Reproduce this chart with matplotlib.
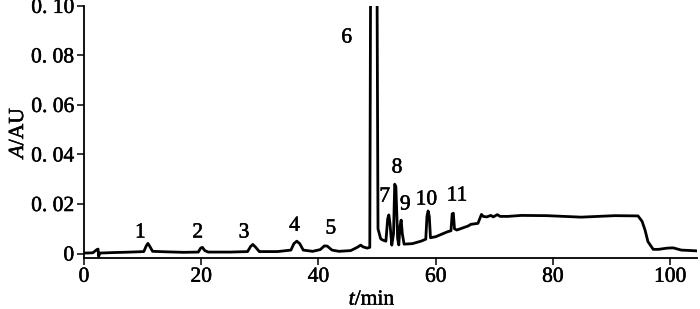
import numpy as np
import matplotlib
matplotlib.use("Agg")
import matplotlib.pyplot as plt
import matplotlib.patheffects as pe

plt.rcParams['font.family'] = ['Liberation Serif', 'DejaVu Serif']
plt.rcParams['mathtext.fontset'] = 'custom'
plt.rcParams['mathtext.it'] = 'Liberation Serif:italic'
plt.rcParams['mathtext.rm'] = 'Liberation Serif'

# chromatogram trace (time in min, absorbance in AU)
t_min = [0.0, 1.5, 2.2, 2.4, 2.5, 2.7, 5.0, 8.0,
         10.2, 10.6, 10.9, 11.2, 11.7, 14.0, 17.0,
         19.5, 19.9, 20.2, 20.6, 21.2, 25.0,
         27.9, 28.4, 28.8, 29.3, 29.9, 33.0,
         35.3, 35.8, 36.3, 36.8, 37.4, 39.0,
         40.3, 41.0, 41.5, 42.3, 43.5, 45.5, 46.6, 47.2, 47.6, 48.3,
         48.75, 48.95, 49.9, 50.15, 50.6, 50.9,
         51.5, 51.8, 52.0, 52.2, 52.5, 52.8, 53.0, 53.2, 53.5, 53.7,
         53.9, 54.1, 54.3, 54.6, 56.0, 57.5,
         58.3, 58.5, 58.7, 58.9, 59.1, 60.0, 62.0,
         62.6, 62.8, 63.0, 63.2, 63.6, 65.5, 66.0, 67.2,
         67.8, 68.1, 68.7, 69.4, 69.8, 70.5, 71.0, 72.3, 74.6,
         79.0, 84.8, 90.5, 94.5, 95.2, 95.7, 96.2, 97.1, 98.0,
         99.5, 100.5, 101.9, 104.5]
absorb = [0.0002, 0.0003, 0.0016, 0.0018, -0.0012, 0.0002, 0.0004, 0.0006,
          0.0008, 0.0030, 0.0041, 0.0030, 0.0009, 0.0007, 0.0005,
          0.0006, 0.0022, 0.0025, 0.0012, 0.0006, 0.0006,
          0.0008, 0.0028, 0.0037, 0.0025, 0.0008, 0.0008,
          0.0014, 0.0040, 0.0050, 0.0040, 0.0014, 0.0009,
          0.0016, 0.0031, 0.0030, 0.0014, 0.0009, 0.0012, 0.0025, 0.0034, 0.0027, 0.0022,
          0.0025, 0.16, 0.16, 0.0100, 0.0060, 0.0055,
          0.0050, 0.0140, 0.0156, 0.0120, 0.0034, 0.0080, 0.0280, 0.0270, 0.0060, 0.0035,
          0.0110, 0.0135, 0.0080, 0.0038, 0.0040, 0.0050,
          0.0058, 0.0150, 0.0172, 0.0150, 0.0064, 0.0068, 0.0088,
          0.0092, 0.0160, 0.0163, 0.0100, 0.0095, 0.0111, 0.0118, 0.0122,
          0.0158, 0.0150, 0.0148, 0.0154, 0.0148, 0.0157, 0.0150, 0.0150, 0.0154,
          0.0153, 0.0147, 0.0153, 0.0152, 0.0130, 0.0095, 0.0048, 0.0017, 0.0017,
          0.0022, 0.0023, 0.0014, 0.0011]

# peak numbers and where their labels sit
peak_names = ['1', '2', '3', '4', '5', '6', '7', '8', '9', '10', '11']
label_t = [9.6, 19.4, 27.3, 35.9, 42.1, 44.8, 51.3, 53.4, 54.8, 58.4, 63.6]
label_a = [0.0083, 0.0083, 0.0083, 0.0110, 0.0099, 0.087, 0.0228, 0.0345, 0.0196, 0.0216, 0.0232]

xticks = [0, 20, 40, 60, 80, 100]
yticks = [0, 0.02, 0.04, 0.06, 0.08, 0.10]
ytick_labels = ['0', '0. 02', '0. 04', '0. 06', '0. 08', '0. 10']

heavy = [pe.withStroke(linewidth=0.35, foreground='black')]

fig = plt.figure(figsize=(7, 3.09), dpi=100)
ax = fig.add_axes([0.12, 0.165, 0.876, 0.816])

ax.plot(t_min, absorb, color='black', lw=2.0, solid_joinstyle='round')

for name, x, y in zip(peak_names, label_t, label_a):
    ax.text(x, y, name, ha='center', va='center', fontsize=15.5, path_effects=heavy)

ax.set_xlim(0, 104.6)
ax.set_ylim(-0.0018, 0.10)
ax.set_xticks(xticks)
ax.set_yticks(yticks)
ax.set_yticklabels(ytick_labels)
ax.tick_params(direction='out', length=5, width=1.1, labelsize=15.5, pad=2)
for lab in ax.get_xticklabels() + ax.get_yticklabels():
    lab.set_path_effects(heavy)

for side in ['top', 'right']:
    ax.spines[side].set_visible(False)
for side in ['left', 'bottom']:
    ax.spines[side].set_linewidth(1.3)

ax.set_xlabel(r'$t$/min', fontsize=15.5, labelpad=0, path_effects=heavy)
ax.xaxis.set_label_coords(0.47, -0.13)
ax.set_ylabel(r'$A$/AU', fontsize=15.5, labelpad=2, path_effects=heavy)

fig.savefig('out.png', dpi=100)
